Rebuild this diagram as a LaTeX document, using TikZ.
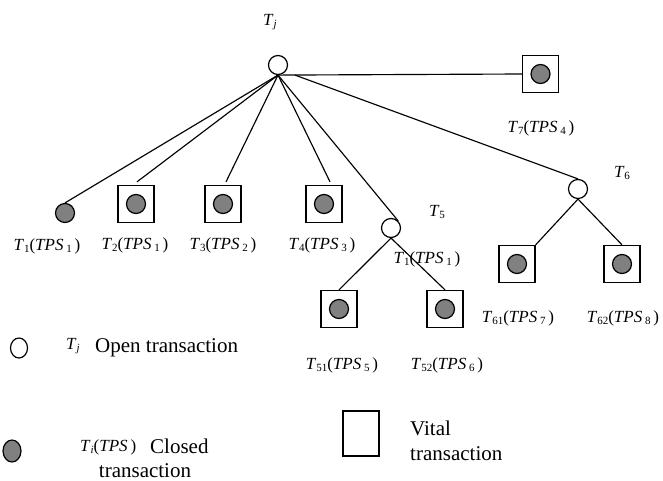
\documentclass[tikz,border=0pt]{standalone}
\usepackage{fontspec}
\setmainfont{Liberation Serif}
\usetikzlibrary{calc,shapes.geometric}
\definecolor{fillgray}{RGB}{128,128,128}
% lowered subscript in a smaller size
\newcommand{\sbs}[1]{\raisebox{-0.35ex}{\fontsize{11}{11}\selectfont #1}}
% transaction name with its TPS
\newcommand{\tlab}[2]{\textit{T}\sbs{#1}(\textit{TPS}\,\sbs{#2}\,)}

\begin{document}
\begin{tikzpicture}[x=1pt,y=-1pt,
  edge/.style={line width=1.15pt},
  opennode/.style={circle,draw,fill=white,minimum size=19pt,inner sep=0pt,line width=1.2pt},
  closednode/.style={circle,draw,fill=fillgray,minimum size=19pt,inner sep=0pt,line width=1.2pt},
  vitalbox/.style={rectangle,draw,fill=white,minimum width=36pt,minimum height=37pt,inner sep=0pt,line width=1.3pt},
  lbl/.style={inner sep=0pt,font=\fontsize{17}{20}\selectfont},
  legtext/.style={inner sep=0pt,font=\fontsize{21}{24}\selectfont}]

\useasboundingbox (0,0) rectangle (663,481);

% root (open transaction)
\node[opennode] (root) at (278,65) {};
\node[lbl] (rootlbl) at (270,22) {\textit{T}\sbs{\textit{j}}};
\coordinate (fork) at ($(root.south)+(17,0)$);

% first-level children
\node[closednode] (t1) at (65,213) {};
\node[vitalbox] (t2) at (136,204) {};
\node[closednode] (t2c) at (t2) {};
\node[vitalbox] (t3) at (223,204) {};
\node[closednode] (t3c) at (t3) {};
\node[vitalbox] (t4) at (324,204) {};
\node[closednode] (t4c) at (t4) {};
\node[opennode] (t5) at (391,228) {};
\node[opennode] (t6) at (578,189) {};
\node[vitalbox] (t7) at (540.5,74) {};
\node[closednode] (t7c) at (t7) {};

% second-level children
\node[vitalbox] (t51) at (339,309) {};
\node[closednode] (t51c) at (t51) {};
\node[vitalbox] (t52) at (445,309) {};
\node[closednode] (t52c) at (t52) {};
\node[vitalbox] (t61) at (517,264) {};
\node[closednode] (t61c) at (t61) {};
\node[vitalbox] (t62) at (622,264) {};
\node[closednode] (t62c) at (t62) {};

% connectors
\draw[edge] (root.south) -- (t1.north);
\draw[edge] (root.south) -- ($(t2.north)+(1,-3)$);
\draw[edge] (root.south) -- ($(t3.north)+(3,-3)$);
\draw[edge] (root.south) -- ($(t4.north)+(6,-3)$);
\draw[edge] (root.south) -- (t5.north east);
\draw[edge] (fork) -- (t6.north);
\draw[edge] (root.south) -- (t7.west);
\draw[edge] (t5.south) -- (t51.north);
\draw[edge] (t5.south) -- (t52.north);
\draw[edge] (t6.south) -- (t61.north east);
\draw[edge] (t6.south) -- (t62.north);

% labels
\node[lbl] (l1) at (47,246) {\tlab{1}{1}};
\node[lbl] (l2) at (135,245) {\tlab{2}{1}};
\node[lbl] (l3) at (223,245) {\tlab{3}{2}};
\node[lbl] (l4) at (322,245) {\tlab{4}{3}};
\node[lbl] (l5) at (437,212) {\textit{T}\sbs{5}};
\node[lbl] (l5b) at (427,259) {\tlab{1}{1}};
\node[lbl] (l6) at (622,173) {\textit{T}\sbs{6}};
\node[lbl] (l7) at (541,128) {\tlab{7}{4}};
\node[lbl] (l51) at (342,365) {\tlab{51}{5}};
\node[lbl] (l52) at (447,365) {\tlab{52}{6}};
\node[lbl] (l61) at (518,318) {\tlab{61}{7}};
\node[lbl] (l62) at (623,318) {\tlab{62}{8}};

% legend
\node[ellipse,draw,line width=1.2pt,minimum width=17pt,minimum height=20pt,inner sep=0pt] (legopen) at (19,348) {};
\node[lbl] (legopenT) at (73,346) {\textit{T}\sbs{\textit{j}}};
\node[legtext,anchor=base west] (legopentxt) at (95,352) {Open transaction};

\node[ellipse,draw,fill=fillgray,line width=1.2pt,minimum width=18pt,minimum height=22pt,inner sep=0pt] (legclosed) at (12,451) {};
\node[lbl,anchor=west] (legclosedT) at (80,447) {\textit{T}\sbs{\textit{i}}(\textit{TPS}\,)};
\node[legtext,anchor=base west] (legclosedtxt) at (150,453) {Closed};
\node[legtext,anchor=base] (legclosedtxt2) at (145,477) {transaction};

\node[rectangle,draw,line width=1.3pt,minimum width=36pt,minimum height=45pt,inner sep=0pt] (legvital) at (361,433.5) {};
\node[legtext,anchor=base west] (legvitaltxt) at (410,435) {Vital};
\node[legtext,anchor=base west] (legvitaltxt2) at (410,460) {transaction};
\end{tikzpicture}
\end{document}
